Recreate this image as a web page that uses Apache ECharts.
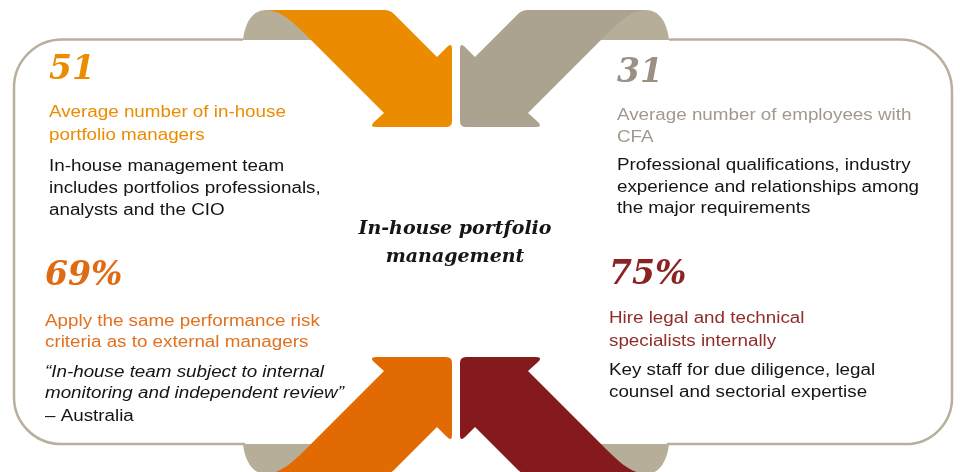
<!DOCTYPE html>
<html>
<head>
<meta charset="utf-8">
<script src="https://cdn.jsdelivr.net/npm/echarts@6/dist/echarts.min.js"></script>
<style>html,body{margin:0;padding:0;background:#fff}#c{width:960px;height:472px}</style>
</head>
<body>
<div id="c"></div>
<script>
// ---- data ----
const statValues = [51, 31, 69, 75];
const statUnits = ['', '', '%', '%'];
const headings = [
  ['Average number of in-house', 'portfolio managers'],
  ['Average number of employees with', 'CFA'],
  ['Apply the same performance risk', 'criteria as to external managers'],
  ['Hire legal and technical', 'specialists internally']
];
const details = [
  ['In-house management team', 'includes portfolios professionals,', 'analysts and the CIO'],
  ['Professional qualifications, industry', 'experience and relationships among', 'the major requirements'],
  ['\u201CIn-house team subject to internal', 'monitoring and independent review\u201D', '\u2013 Australia'],
  ['Key staff for due diligence, legal', 'counsel and sectorial expertise']
];
const centerTitle = ['In-house portfolio', 'management'];

// ---- styling / layout ----
const numColors = ['#EB8C00', '#9B9083', '#DF6A12', '#8B2323'];
const headColors = ['#EB8C00', '#A1998B', '#E1711F', '#8F2C2C'];
const layout = [
  {x: 49, num: 80, head: [117, 140], det: [171, 193, 215]},
  {x: 617, num: 83, head: [120, 142], det: [170, 192, 213]},
  {x: 45, num: 286, head: [326, 347], det: [377, 398, 421]},
  {x: 609, num: 285, head: [323, 346], det: [375, 397]}
];
const italicDetail = [[false, false, false], [false, false, false], [true, true, false], [false, false]];

const arrowCmds = [
  ['M', 262, 10], ['L', 384, 10], ['Q', 390, 10, 394, 14], ['L', 437, 57], ['L', 447, 47],
  ['Q', 452, 42, 452, 49], ['L', 452, 121], ['Q', 452, 127, 446, 127], ['L', 376, 127],
  ['Q', 369, 127, 374, 122], ['L', 384, 113], ['L', 305, 34], ['C', 286, 15, 277, 10, 262, 10], ['Z']
];
const bumpCmds = [['M', 243, 40], ['C', 245, 22, 253, 10, 266, 10], ['L', 285, 10], ['L', 312, 40], ['Z']];

function toPath(cmds, fx, fy) {
  return cmds.map(c => c[0] + c.slice(1).map((v, i) => i % 2 === 0 ? fx(v) : fy(v)).join(',')).join(' ');
}
const id = v => v, mx = v => 912 - v, my = v => 484 - v;

function buildElements() {
  const els = [];
  const outlineColor = '#B8B09C';
  els.push({type: 'path', silent: true, shape: {pathData:
    'M243,39.5 L62,39.5 C35.5,39.5 14,61 14,87.5 L14,397 C14,423 35,444 61,444 L245,444'},
    style: {fill: 'none', stroke: outlineColor, lineWidth: 2.5}});
  els.push({type: 'path', silent: true, shape: {pathData:
    'M669,39.5 L900,39.5 C928.7,39.5 952,62.8 952,91.5 L952,398 C952,423.4 931.4,444 906,444 L667,444'},
    style: {fill: 'none', stroke: outlineColor, lineWidth: 2.5}});
  const bumpColor = '#B7AE99';
  [[id, id], [mx, id], [id, my], [mx, my]].forEach(t => {
    els.push({type: 'path', silent: true, shape: {pathData: toPath(bumpCmds, t[0], t[1])}, style: {fill: bumpColor}});
  });
  const arrowDefs = [[id, id, '#EB8C00'], [mx, id, '#ABA390'], [id, my, '#E16A03'], [mx, my, '#841A1C']];
  arrowDefs.forEach(a => {
    els.push({type: 'path', silent: true, shape: {pathData: toPath(arrowCmds, a[0], a[1])}, style: {fill: a[2]}});
  });

  const SX = 1.175;
  function sansText(x, base, text, color, italic) {
    return {type: 'text', silent: true, x: x, y: base - 4.5, scaleX: SX,
      style: {text: text, fill: color, font: (italic ? 'italic ' : '') + '16px "Liberation Sans", Arial, sans-serif',
        textAlign: 'left', textVerticalAlign: 'middle', align: 'left', verticalAlign: 'middle'}};
  }
  layout.forEach((L, k) => {
    els.push({type: 'text', silent: true, x: L.x, y: L.num - 9.5,
      style: {text: String(statValues[k]) + statUnits[k], fill: numColors[k],
        font: 'italic bold 33px "DejaVu Serif", serif',
        textAlign: 'left', textVerticalAlign: 'middle', align: 'left', verticalAlign: 'middle'}});
    headings[k].forEach((h, i) => els.push(sansText(L.x, L.head[i], h, headColors[k], false)));
    details[k].forEach((d, i) => els.push(sansText(L.x, L.det[i], d, '#141414', italicDetail[k][i])));
  });
  const titleBase = [235, 263];
  centerTitle.forEach((t, i) => {
    els.push({type: 'text', silent: true, x: 455, y: titleBase[i] - 6,
      style: {text: t, fill: '#161616', font: 'italic bold 19px "DejaVu Serif", serif',
        textAlign: 'center', textVerticalAlign: 'middle', align: 'center', verticalAlign: 'middle'}});
  });
  return els;
}

const chart = echarts.init(document.getElementById('c'), null, {renderer: 'canvas'});
chart.setOption({
  backgroundColor: '#ffffff',
  animation: false,
  series: [{
    type: 'custom',
    coordinateSystem: 'none',
    silent: true,
    data: [0],
    renderItem: function () {
      return {type: 'group', children: buildElements()};
    }
  }]
});
</script>
</body>
</html>
